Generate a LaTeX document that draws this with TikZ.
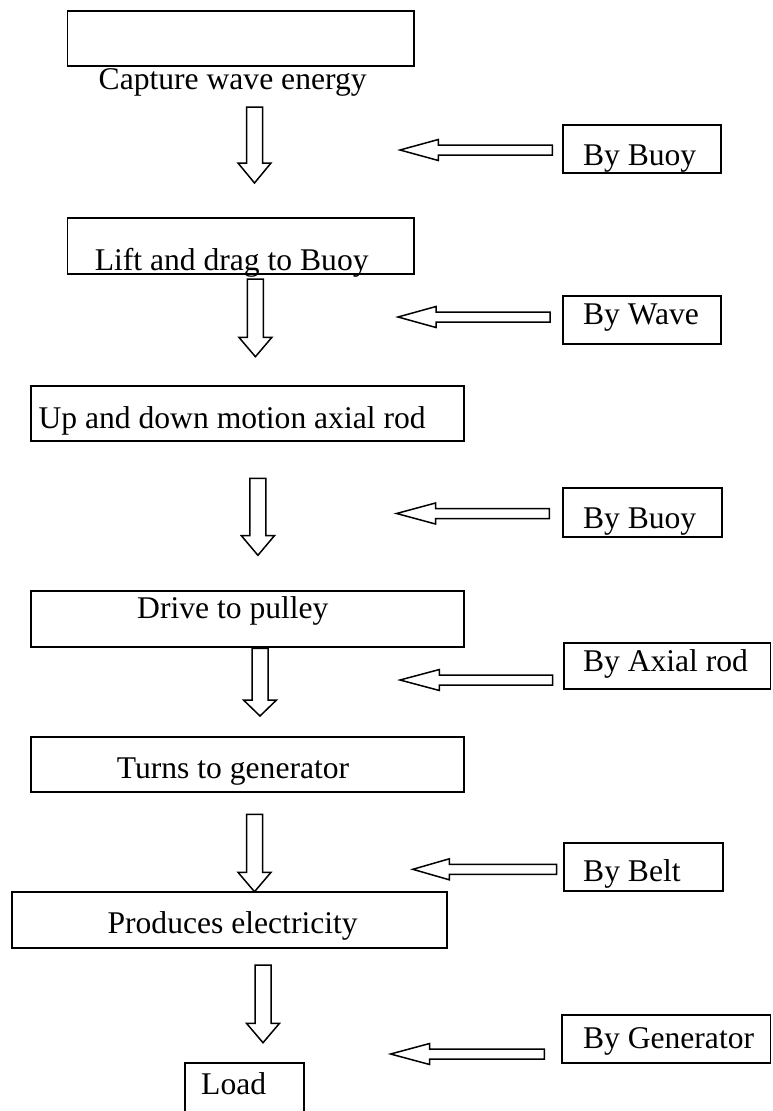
\documentclass[tikz,border=0pt]{standalone}
\usepackage{fontspec}
\setmainfont{Liberation Serif}
\usepackage{tikz}

% hollow block arrows
\newcommand{\flowdown}[4]{% x, top, head start, tip
  \draw[blockarrow] (#1-8,#2) -- (#1-8,#3) -- (#1-16.5,#3) -- (#1,#4)
    -- (#1+16.5,#3) -- (#1+8,#3) -- (#1+8,#2) -- cycle;}
\newcommand{\flowleft}[4]{% y, tip, head base, tail
  \draw[blockarrow] (#4,#1-5) -- (#3,#1-5) -- (#3,#1-10.5) -- (#2,#1)
    -- (#3,#1+10.5) -- (#3,#1+5) -- (#4,#1+5) -- cycle;}

\begin{document}
\begin{tikzpicture}[x=1pt, y=-1pt,
    font=\fontsize{31.6}{36}\selectfont,
    box/.style={draw, line width=1.8pt, inner sep=0pt},
    lbl/.style={anchor=base west, inner sep=0pt},
    blockarrow/.style={draw, line width=1.5pt, line join=miter}]
    \clip (0,0) rectangle (772,1111);

    % main chain
    \node[box, minimum width=346.5, minimum height=55.3] (capture) at (240.75,38.35) {};
    \node[lbl] (capturetxt) at (98.5,89) {Capture wave energy};
    \node[box, minimum width=346.3, minimum height=56] (lift) at (240.65,246.3) {};
    \node[lbl] (lifttxt) at (94.6,270) {Lift and drag to Buoy};
    \node[box, minimum width=433, minimum height=55.3] (updown) at (247.5,413.35) {};
    \node[lbl] (updowntxt) at (38.4,428.3) {Up and down motion axial rod};
    \node[box, minimum width=433, minimum height=55.7] (drive) at (247.5,618.85) {};
    \node[lbl] (drivetxt) at (137,618.3) {Drive to pulley};
    \node[box, minimum width=433, minimum height=55.6] (turns) at (247.5,764.5) {};
    \node[lbl] (turnstxt) at (116.7,778.3) {Turns to generator};
    \node[box, minimum width=434.5, minimum height=56] (produce) at (229.55,920.3) {};
    \node[lbl] (producetxt) at (107.4,933.3) {Produces electricity};
    \node[box, minimum width=119.3, minimum height=56.7] (load) at (244.35,1091.65) {};
    \node[lbl] (loadtxt) at (201,1094) {Load};

    % side boxes
    \node[box, minimum width=157.7, minimum height=48.3] (buoya) at (641.85,149.15) {};
    \node[lbl] (buoyatxt) at (582.8,165) {By Buoy};
    \node[box, minimum width=157.7, minimum height=48] (wave) at (641.85,320) {};
    \node[lbl] (wavetxt) at (582.8,324) {By Wave};
    \node[box, minimum width=158.7, minimum height=48.4] (buoyb) at (642.35,512.5) {};
    \node[lbl] (buoybtxt) at (582.8,528.3) {By Buoy};
    \node[box, minimum width=206.5, minimum height=46] (axial) at (667.25,666.3) {};
    \node[lbl] (axialtxt) at (582.8,671.7) {By Axial rod};
    \node[box, minimum width=158.7, minimum height=47.7] (belt) at (643.35,867.15) {};
    \node[lbl] (belttxt) at (583,881.7) {By Belt};
    \node[box, minimum width=208.5, minimum height=48.3] (generator) at (666.25,1039.15) {};
    \node[lbl] (generatortxt) at (582.8,1048.3) {By Generator};

    % down arrows
    \flowdown{254.5}{107}{163}{183}
    \flowdown{255.4}{279}{337.3}{356.7}
    \flowdown{257.9}{478.3}{535.7}{555.3}
    \flowdown{260}{648.3}{700}{716}
    \flowdown{254.5}{814.3}{872.3}{891.7}
    \flowdown{263}{965}{1023.3}{1042.7}

    % side arrows
    \flowleft{150}{400}{438.3}{552.3}
    \flowleft{317}{398}{436}{550}
    \flowleft{513.5}{396.6}{435.5}{549.3}
    \flowleft{680}{400}{439.4}{552.7}
    \flowleft{869.3}{412.8}{449.3}{556.7}
    \flowleft{1054}{390.6}{429.6}{544.3}
\end{tikzpicture}
\end{document}
